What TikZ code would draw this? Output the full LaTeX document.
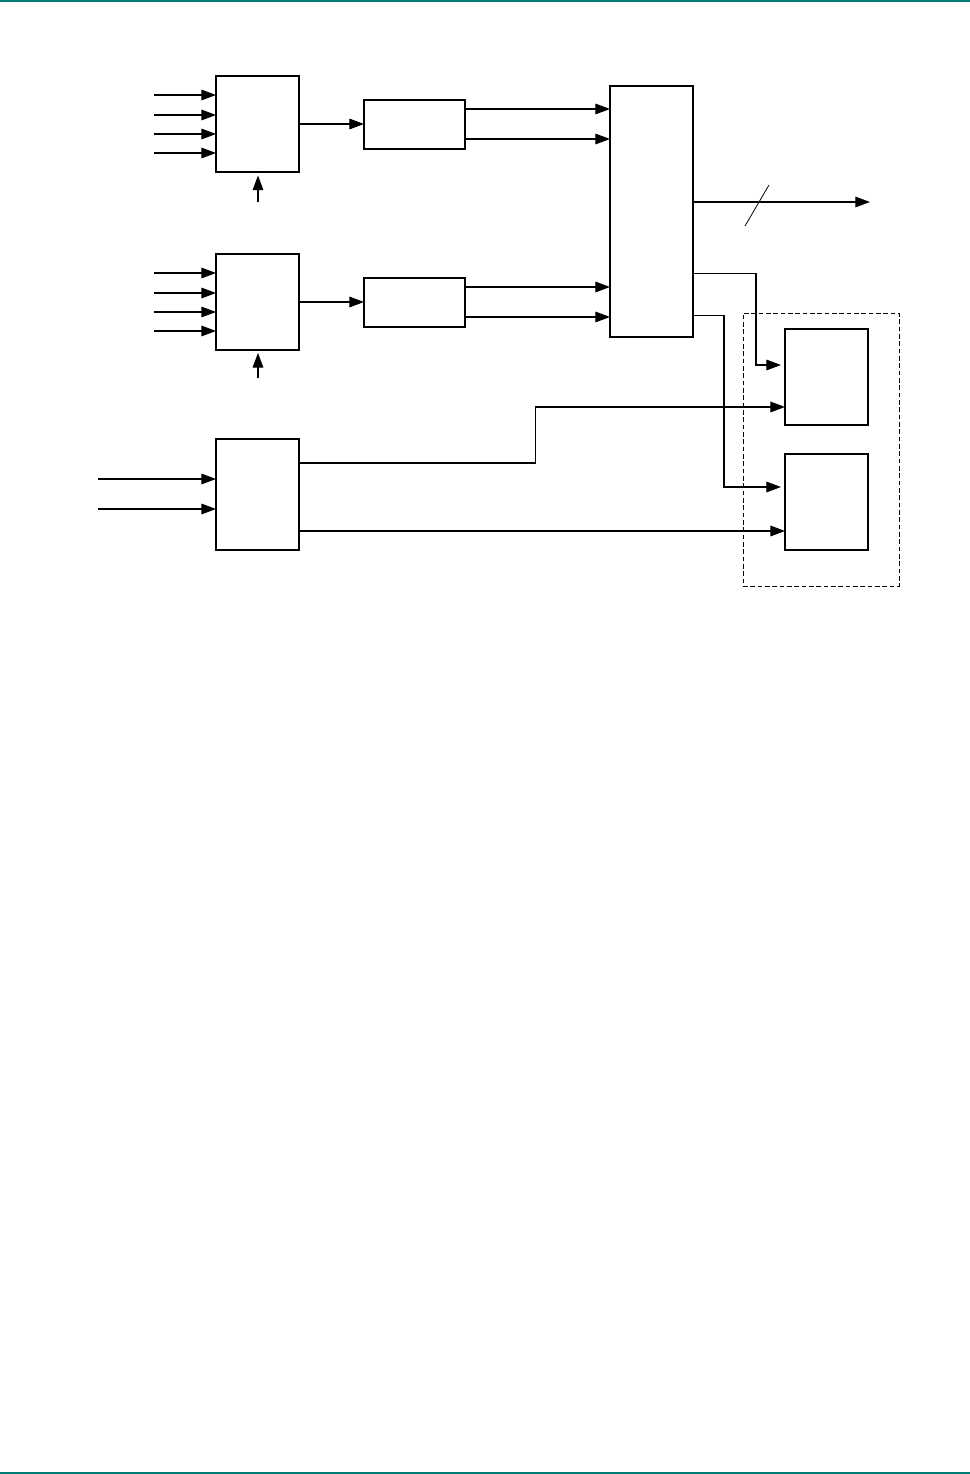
\documentclass[tikz,border=0pt]{standalone}
\usetikzlibrary{arrows.meta}
\definecolor{rule}{RGB}{0,124,118}
\begin{document}
\begin{tikzpicture}[x=0.75pt,y=-0.75pt,
  box/.style={draw,line width=0.8pt,inner sep=0pt,outer sep=0pt,minimum width=62.25pt},
  thickbox/.style={box,line width=1.8pt},
  midbox/.style={box,line width=1.2pt},
  wire/.style={line width=0.8pt},
  arr/.style={wire,-{Triangle[length=11pt,width=8pt]}}]
\useasboundingbox (0,0) rectangle (970,1474);
\fill[rule] (0,0) rectangle (970,2);
\fill[rule] (0,1471.5) rectangle (970,1474);
% blocks
\node[box,minimum height=72pt] (A1) at (257.5,124) {};
\node[box,minimum height=72pt] (A2) at (257.5,302) {};
\node[thickbox,minimum width=75.75pt,minimum height=36.75pt] (B1) at (414.5,124.5) {};
\node[thickbox,minimum width=75.75pt,minimum height=36.75pt] (B2) at (414.5,302.5) {};
\node[midbox,minimum height=188.25pt] (C) at (651.5,211.5) {};
\node[box,minimum height=72pt] (D1) at (826.5,377) {};
\node[box,minimum height=72pt] (D2) at (826.5,502) {};
\node[box,minimum height=83.25pt] (E) at (257.5,494.5) {};
\node[draw,dash pattern=on 3.5pt off 2pt,line width=0.7pt,inner sep=0pt,minimum width=117pt,minimum height=204.75pt] (G) at (821,449.5) {};
% inputs to A1 and A2
\foreach \y [count=\i] in {95,115,134,153}{
  \coordinate (a1in\i) at (154,\y);
  \draw[arr] (a1in\i) -- (a1in\i -| A1.west);
}
\foreach \y [count=\i] in {273,293,312,331}{
  \coordinate (a2in\i) at (154,\y);
  \draw[arr] (a2in\i) -- (a2in\i -| A2.west);
}
% control arrows from below
\coordinate (c1) at (258,202);
\coordinate (c1t) at (258,175.5);
\draw[arr] (c1) -- (c1t);
\coordinate (c2) at (258,378);
\coordinate (c2t) at (258,353);
\draw[arr] (c2) -- (c2t);
% A -> B
\coordinate (r1) at (0,124);
\draw[arr] (A1.east |- r1) -- (B1.west |- r1);
\coordinate (r2) at (0,302);
\draw[arr] (A2.east |- r2) -- (B2.west |- r2);
% B -> C
\foreach \y [count=\i] in {109,139}{
  \coordinate (b1o\i) at (0,\y);
  \draw[arr] (B1.east |- b1o\i) -- (C.west |- b1o\i);
}
\foreach \y [count=\i] in {287,317}{
  \coordinate (b2o\i) at (0,\y);
  \draw[arr] (B2.east |- b2o\i) -- (C.west |- b2o\i);
}
% C output bus
\coordinate (out) at (870,202);
\draw[arr] (C.east |- out) -- (out);
\coordinate (s1) at (745,226);
\coordinate (s2) at (769,185);
\draw[line width=0.6pt] (s1) -- (s2);
% C -> D1, D2
\coordinate (k1) at (756,273.5);
\coordinate (k1b) at (781,365);
\draw[arr] (C.east |- k1) -- (k1) -- (k1 |- k1b) -- (k1b);
\coordinate (k2) at (724,315.5);
\coordinate (k2b) at (781,487);
\draw[arr] (C.east |- k2) -- (k2) -- (k2 |- k2b) -- (k2b);
% E inputs
\foreach \y [count=\i] in {479,509}{
  \coordinate (ein\i) at (98,\y);
  \draw[arr] (ein\i) -- (ein\i -| E.west);
}
% E -> D1, D2
\coordinate (e1) at (535.5,463);
\coordinate (e1b) at (535.5,407);
\draw[arr] (E.east |- e1) -- (e1) -- (e1b) -- (D1.west |- e1b);
\coordinate (e2) at (0,531);
\draw[arr] (E.east |- e2) -- (D2.west |- e2);
\end{tikzpicture}
\end{document}
